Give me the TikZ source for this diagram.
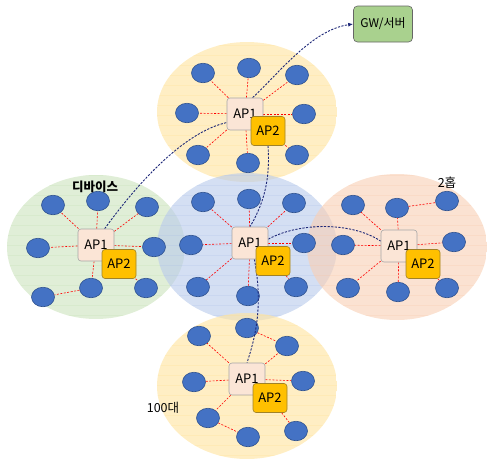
\documentclass[tikz,border=0pt]{standalone}
\usepackage{fontspec}
\setmainfont{Noto Sans CJK KR}
\usetikzlibrary{shapes.geometric,arrows.meta,calc}
\pgfdeclarelayer{bg}\pgfdeclarelayer{fg}\pgfsetlayers{bg,main,fg}
\definecolor{zyellow}{RGB}{255,228,160}
\definecolor{zgreen}{RGB}{205,228,190}
\definecolor{zblue}{RGB}{186,203,235}
\definecolor{zorange}{RGB}{248,208,182}
\definecolor{devfill}{RGB}{68,114,196}
\definecolor{devline}{RGB}{47,82,143}
\definecolor{apone}{RGB}{251,229,214}
\definecolor{aptwo}{RGB}{255,192,0}
\definecolor{aptwoline}{RGB}{160,130,40}
\definecolor{gwfill}{RGB}{169,209,142}
\definecolor{navyline}{RGB}{30,40,120}
\newcommand\drawzone[5]{%
  \begin{scope}
    \clip (#1,#2) ellipse [x radius=#3, y radius=#4];
    \fill[#5, opacity=0.62] (#1-#3,#2-#4) rectangle (#1+#3,#2+#4);
    \foreach \yy in {5,15,...,455} \draw[#5, opacity=0.4, line width=0.8pt] (#1-#3,\yy) -- (#1+#3,\yy);
  \end{scope}}
\begin{document}
\begin{tikzpicture}[x=1pt,y=-1pt,
  dev/.style={ellipse, draw=devline, line width=0.6pt, fill=devfill, minimum width=23pt, minimum height=19.5pt, inner sep=0pt},
  apa/.style={rectangle, rounded corners=3pt, draw=gray!70, line width=0.6pt, fill=apone, minimum width=36pt, minimum height=32pt, inner sep=0pt, font=\fontsize{13}{13}\selectfont},
  apb/.style={rectangle, rounded corners=3pt, draw=aptwoline, line width=0.6pt, fill=aptwo, minimum width=34pt, minimum height=29pt, inner sep=0pt, font=\fontsize{13}{13}\selectfont},
  red link/.style={draw=red, line width=0.6pt, dash pattern=on 2pt off 1.5pt},
  navy link/.style={draw=navyline, line width=0.9pt, dash pattern=on 2.2pt off 1.4pt},
  lbl/.style={inner sep=0pt}]
\useasboundingbox (0,0) rectangle (488,459);
\begin{pgfonlayer}{bg}
  \drawzone{247}{112}{90}{70}{zyellow}
  \drawzone{96}{247}{89}{72}{zgreen}
  \drawzone{247}{247}{90}{74}{zblue}
  \drawzone{397}{247}{90}{73}{zorange}
  \drawzone{247}{386}{90}{73}{zyellow}
\end{pgfonlayer}
% AP boxes on foreground layer
\begin{pgfonlayer}{fg}
  \node[apa] (t1) at (245,114) {AP1};
  \node[apb] (t2) at (268,131) {AP2};
  \node[apa] (l1) at (96,245) {AP1};
  \node[apb] (l2) at (119,264) {AP2};
  \node[apa] (c1) at (250,243) {AP1};
  \node[apb] (c2) at (273,261) {AP2};
  \node[apa] (r1) at (399,246) {AP1};
  \node[apb] (r2) at (423,264) {AP2};
  \node[apa] (b1) at (247,379) {AP1};
  \node[apb] (b2) at (270,398) {AP2};
\end{pgfonlayer}
% gateway
\node[rectangle, rounded corners=4pt, draw=gray!80!black, line width=0.6pt, fill=gwfill, minimum width=59pt, minimum height=36pt, font=\fontsize{12}{12}\selectfont] (gw) at (383,24) {GW/서버};
% devices
\foreach \n/\x/\y in {tA/203/73, tB/249/68, tC/297/75, tD/187/113, tE/304/114, tF/198/155, tG/248/163, tH/297/155,
  lA/53/205, lB/98/201, lC/147/207, lD/38/248, lE/154/247, lF/43/297, lG/91/288, lH/146/288,
  cA/203/202, cB/249/199, cC/294/203, cD/191/245, cE/304/243, cF/198/287, cG/248/296, cH/296/287,
  rA/353/205, rB/397/208, rC/447/201, rD/343/245, rE/454/242, rF/348/288, rG/398/292, rH/447/288,
  bA/199/336, bB/247/328, bC/287/346, bD/194/382, bE/303/381, bF/208/418, bG/248/437, bH/296/431}
  \node[dev] (\n) at (\x,\y) {};
% red links
\foreach \a/\b in {t1/tA, t1/tB, t1/tC, t1/tD, t1/tE, t1/tF, t1/tG, t2/tH,
  l1/lA, l1/lB, l1/lC, l1/lD, l1/lE, l1/lG, lG/lF, l2/lH,
  c1/cA, c1/cB, c1/cC, c1/cD, c1/cE, c1/cF, c1/cG, c2/cH,
  r1/rA, r1/rB, r1/rD, r1/rE, r1/rF, r1/rG, rB/rC, r2/rH,
  b1/bA, b1/bC, b1/bD, b1/bE, b1/bF, bB/bC, bF/bG, b2/bH}
  \draw[red link] (\a) -- (\b);
% navy backbone links
\draw[navy link, -{Latex[length=5pt,width=4pt]}] (t1.65) .. controls (280,72) and (312,30) .. (gw.west);
\draw[navy link] (l1.62) .. controls (140,180) and (185,132) .. (t1.205);
\draw[navy link] (t2.south) .. controls (270,175) and (266,200) .. (c1.north);
\draw[navy link] (c1.12) .. controls (300,222) and (352,222) .. (r1.165);
\draw[navy link] (c1.-75) .. controls (262,300) and (258,330) .. (b1.north);
% labels
\node[lbl, font=\bfseries\fontsize{12.5}{12.5}\selectfont] (devlbl) at (95,187) {디바이스};
\node[lbl, font=\fontsize{12.5}{12.5}\selectfont] (hoplbl) at (447,183) {2홉};
\node[lbl, font=\fontsize{12.5}{12.5}\selectfont] (cntlbl) at (163,408) {100대};
\end{tikzpicture}
\end{document}
